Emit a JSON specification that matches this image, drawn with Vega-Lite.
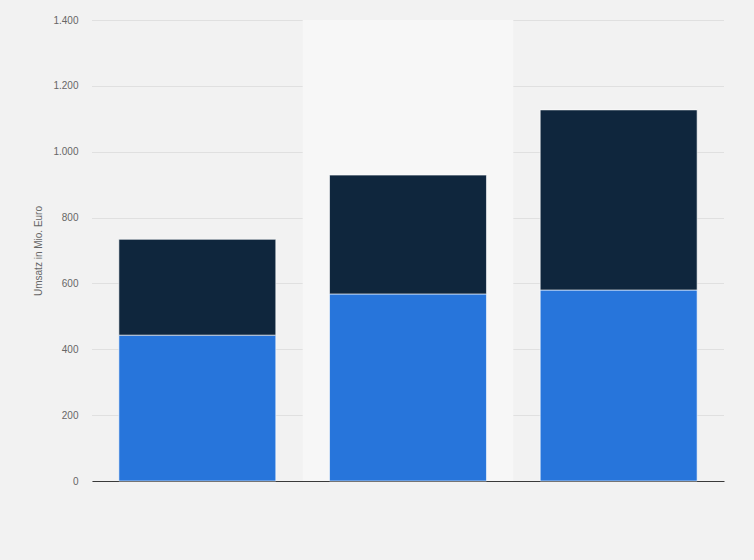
{
  "$schema": "https://vega.github.io/schema/vega-lite/v6.json",
  "width": 632,
  "height": 461,
  "autosize": {"type": "none"},
  "padding": {"left": 92, "top": 20, "right": 30, "bottom": 79},
  "background": "#f2f2f2",
  "config": {
    "view": {"stroke": null},
    "font": "Liberation Sans",
    "locale": {"number": {"decimal": ",", "thousands": ".", "grouping": [3], "currency": ["", " €"]}}
  },
  "datasets": {
    "bars": [
      {"cat": "1", "series": "Segment A", "o": 1, "value": 443},
      {"cat": "1", "series": "Segment B", "o": 2, "value": 291},
      {"cat": "2", "series": "Segment A", "o": 1, "value": 568},
      {"cat": "2", "series": "Segment B", "o": 2, "value": 361},
      {"cat": "3", "series": "Segment A", "o": 1, "value": 580},
      {"cat": "3", "series": "Segment B", "o": 2, "value": 547}
    ],
    "band": [{"cat": "2", "top": 1400}]
  },
  "layer": [
    {
      "data": {"name": "band"},
      "mark": {"type": "bar", "color": "#f7f7f7", "width": {"band": 1.3423}},
      "encoding": {
        "x": {"field": "cat", "type": "nominal", "scale": {"domain": ["1", "2", "3"], "paddingInner": 0.255, "paddingOuter": 0.1275}},
        "y": {"field": "top", "type": "quantitative"}
      }
    },
    {
      "data": {"name": "bars"},
      "mark": {"type": "bar", "stroke": "#ffffff", "strokeWidth": 1, "strokeOpacity": 0.6},
      "encoding": {
        "x": {
          "field": "cat", "type": "nominal",
          "axis": {"title": null, "labels": false, "ticks": false, "domain": true, "domainColor": "#3a3a3a", "domainWidth": 1.2, "grid": false}
        },
        "y": {
          "field": "value", "type": "quantitative", "stack": "zero",
          "scale": {"domain": [0, 1400]},
          "axis": {
            "title": "Umsatz in Mio. Euro", "titleFont": "Liberation Sans", "titleFontSize": 10, "titleFontWeight": "normal", "titleColor": "#666666", "titlePadding": 9,
            "values": [0, 200, 400, 600, 800, 1000, 1200, 1400], "format": ",d",
            "labelFontSize": 10, "labelColor": "#666666", "labelPadding": 14,
            "ticks": false, "domain": false,
            "grid": true, "gridColor": "#cfcfcf", "gridDash": [1, 1], "gridWidth": 1
          }
        },
        "color": {
          "field": "series", "type": "nominal",
          "scale": {"domain": ["Segment A", "Segment B"], "range": ["#2775db", "#0f263d"]},
          "legend": null
        },
        "order": {"field": "o", "type": "quantitative"}
      }
    }
  ]
}
